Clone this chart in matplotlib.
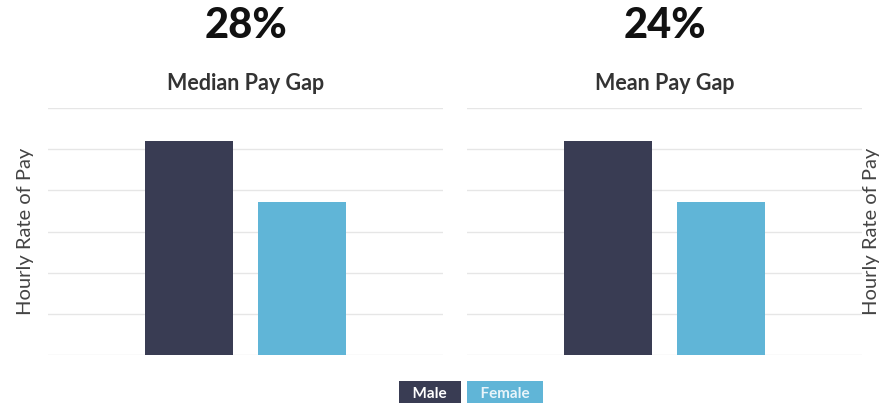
import matplotlib.pyplot as plt

plt.rcParams['font.family'] = ['Lato', 'DejaVu Sans']

groups = ["Male", "Female"]
median_pay = [5.2, 3.72]
mean_pay = [5.2, 3.72]
gaps = ["28%", "24%"]
titles = ["Median Pay Gap", "Mean Pay Gap"]
colors = ["#393c53", "#60b5d7"]

fig = plt.figure(figsize=(8.83, 4.03), dpi=100)
ax1 = fig.add_axes([48/883, 1 - 355/403, 395/883, 247/403])
ax2 = fig.add_axes([467/883, 1 - 355/403, 395/883, 247/403])

for ax, vals, gap, title in zip([ax1, ax2], [median_pay, mean_pay], gaps, titles):
    ax.bar([0, 1], vals, width=0.78, color=colors, zorder=2)
    ax.set_xlim(-1.248, 2.248)
    ax.set_ylim(0, 6)
    ax.set_yticks(range(7))
    ax.grid(axis="y", color="#e6e6e6", linewidth=1, zorder=0)
    ax.tick_params(left=False, bottom=False, labelleft=False, labelbottom=False)
    for s in ax.spines.values():
        s.set_visible(False)
    ax.text(0.5, 1.33, gap, transform=ax.transAxes, ha="center", va="center",
            fontsize=30, fontweight="black", color="#111111")
    ax.text(0.5, 1.10, title, transform=ax.transAxes, ha="center", va="center",
            fontsize=15.5, fontweight="bold", color="#333333")

ax1.set_ylabel("Hourly Rate of Pay", fontsize=14.5, color="#444444", labelpad=10)
ax2.yaxis.set_label_position("right")
ax2.set_ylabel("Hourly Rate of Pay", fontsize=14.5, color="#444444", labelpad=1,
               rotation=90)

# legend as coloured label boxes
fig.text(430/883, 1 - 394/403, "  Male  ", ha="center", va="center", fontsize=11,
         fontweight="bold", color="white",
         bbox=dict(boxstyle="square,pad=0.4", fc=colors[0], ec="none"))
fig.text(505/883, 1 - 394/403, "  Female  ", ha="center", va="center", fontsize=11,
         fontweight="bold", color="#e8f4fa",
         bbox=dict(boxstyle="square,pad=0.4", fc=colors[1], ec="none"))

plt.savefig("out.png", dpi=100)
